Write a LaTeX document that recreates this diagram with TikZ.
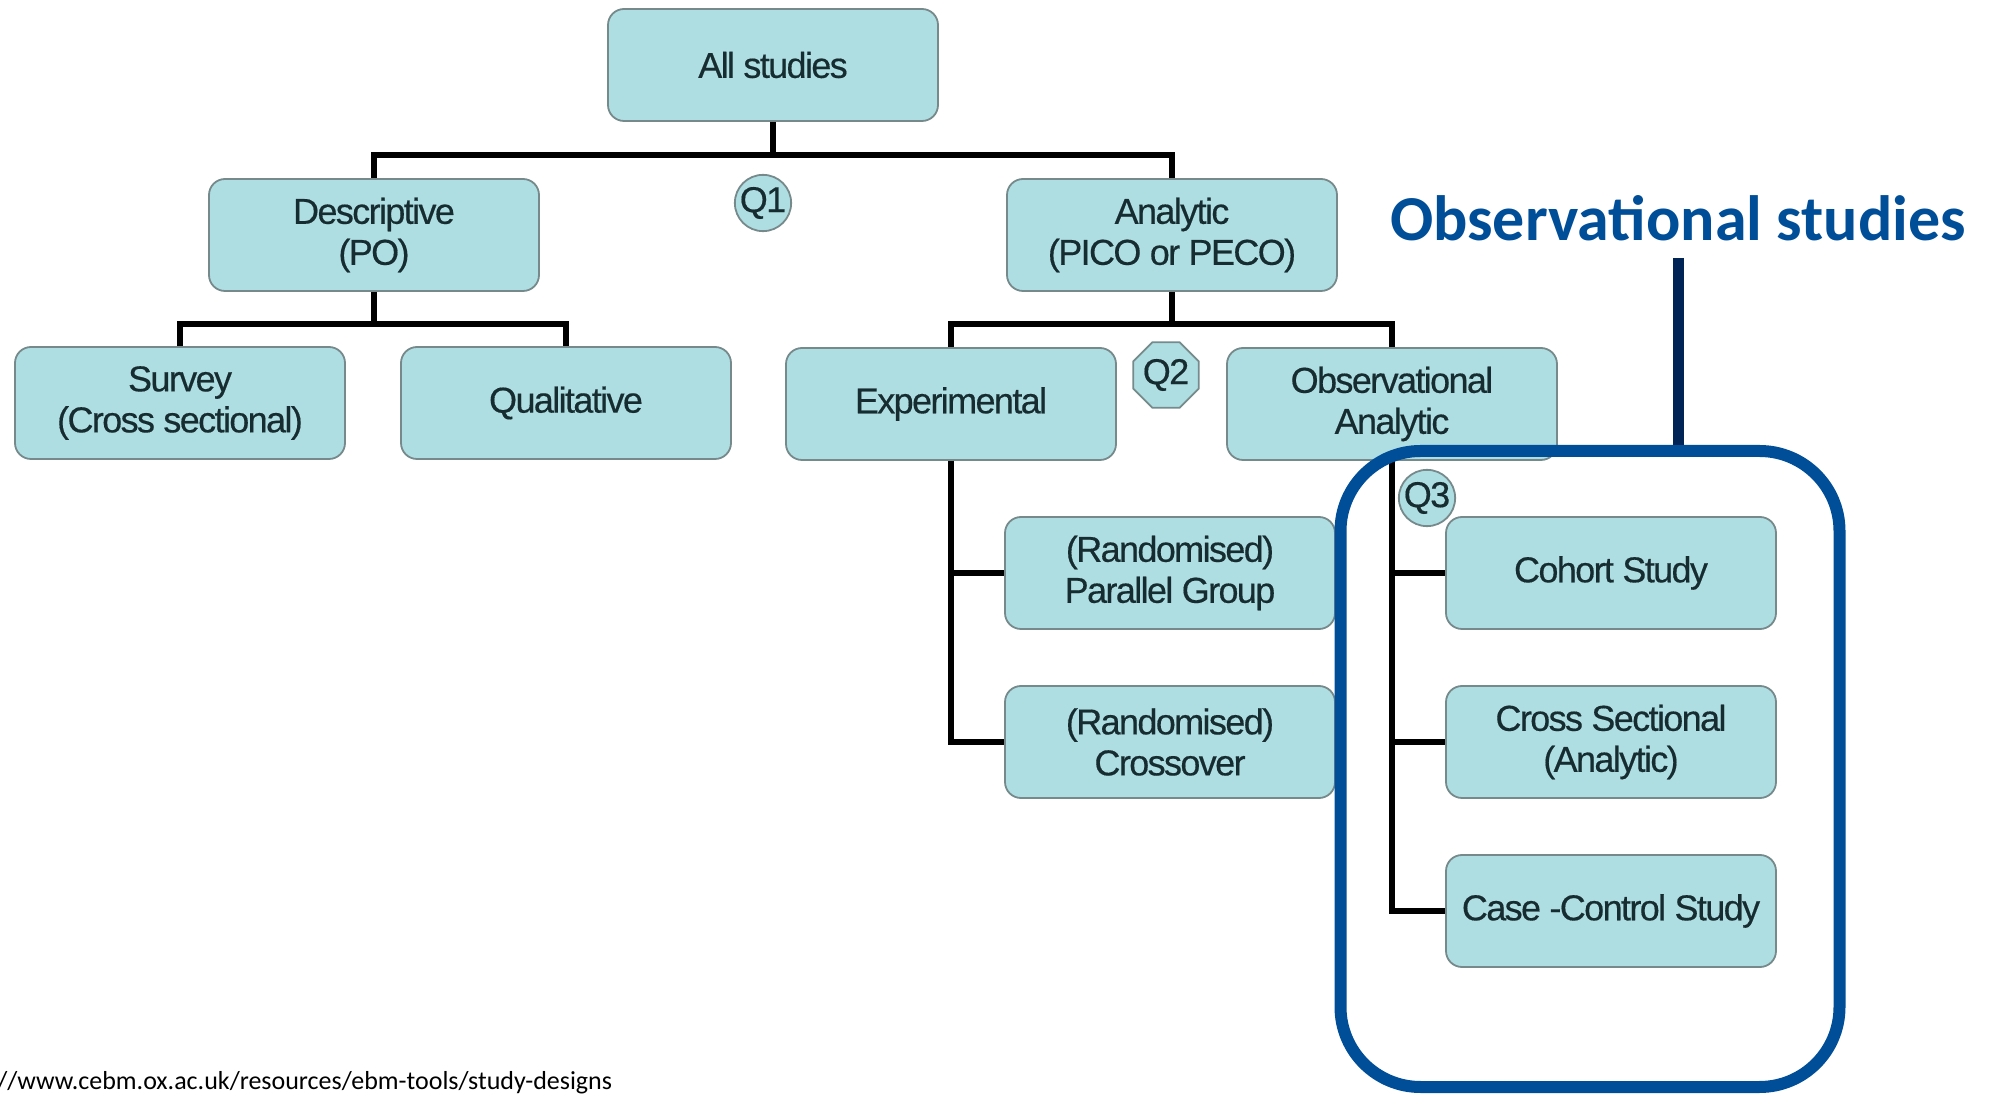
\documentclass[tikz,border=0pt]{standalone}
\usepackage{fontspec}
\usetikzlibrary{shapes.geometric}
\newfontfamily\sdfont{Liberation Sans}[LetterSpace=-4.5, FakeBold=0.4]
\newfontfamily\calfont{Carlito}
\definecolor{sdfill}{RGB}{174,222,226}
\definecolor{sdedge}{RGB}{118,138,140}
\definecolor{sdtext}{RGB}{22,44,48}
\definecolor{obsblue}{RGB}{0,78,152}
\definecolor{obsnavy}{RGB}{0,36,86}

\begin{document}
\begin{tikzpicture}[x=0.5pt, y=-0.5pt,
      sbox/.style={rounded corners=8pt, draw=sdedge, fill=sdfill, line width=0.9pt, minimum width=165pt, minimum height=56pt, align=center, inner sep=2pt, text=sdtext, font=\sdfont\fontsize{18pt}{20.5pt}\selectfont},
      qmark/.style={circle, draw=sdedge, fill=sdfill, line width=0.9pt, minimum size=28pt, inner sep=0pt, text=sdtext, font=\sdfont\fontsize{18pt}{20.5pt}\selectfont},
      link/.style={line width=3pt, black},
      obsframe/.style={draw=obsblue, line width=6pt, rounded corners=40pt, minimum width=249.5pt, minimum height=318pt, inner sep=0pt}
    ]
      \useasboundingbox (0,0) rectangle (1993,1095);

      % Top levels
      \node[sbox] (all) at (773,65) {All studies};
      \node[sbox] (desc) at (374,235) {Descriptive\\(PO)};
      \node[sbox] (anal) at (1172,235) {Analytic\\(PICO or PECO)};
      \node[sbox] (surv) at (180,403) {Survey\\(Cross sectional)};
      \node[sbox] (qual) at (566,403) {Qualitative};
      \node[sbox] (expt) at (951,404) {Experimental};
      \node[sbox] (obsa) at (1392,404) {Observational\\Analytic};

      % Experimental designs
      \node[sbox] (par) at (1170,573) {(Randomised)\\Parallel Group};
      \node[sbox] (xover) at (1170,742) {(Randomised)\\Crossover};

      % Observational designs
      \node[sbox] (coh) at (1611,573) {Cohort Study};
      \node[sbox] (xsec) at (1611,742) {Cross Sectional\\(Analytic)};
      \node[sbox] (cc) at (1611,911) {Case -Control Study};

      % Connectors
      \coordinate (j0) at (773,155);
      \coordinate (j1) at (374,324);
      \coordinate (j2) at (1172,324);
      \draw[link] (all) -- (j0) -| (desc);
      \draw[link] (j0) -| (anal);
      \draw[link] (desc) -- (j1) -| (surv);
      \draw[link] (j1) -| (qual);
      \draw[link] (anal) -- (j2) -| (expt);
      \draw[link] (j2) -| (obsa);
      \draw[link] (expt) |- (par);
      \draw[link] (expt) |- (xover);
      \draw[link] (obsa) |- (coh);
      \draw[link] (obsa) |- (xsec);
      \draw[link] (obsa) |- (cc);

      % Questions
      \node[qmark] (q1) at (763,203) {Q1};
      \node[qmark, regular polygon, regular polygon sides=8, minimum size=30pt] (q2) at (1166,375) {Q2};
      \node[qmark] (q3) at (1427,498) {Q3};

      % Highlight
      \node[obsframe] (obsbox) at (1590,769) {};
      \node[font=\calfont\bfseries\fontsize{32pt}{36pt}\selectfont, text=obsblue, anchor=base, inner sep=8pt] (obslbl) at (1678,241) {Observational studies};
      \draw[line width=5.5pt, obsnavy] (obslbl) -- (obslbl |- obsbox.north);

      % Source
      \node[font=\calfont\fontsize{13pt}{15pt}\selectfont, anchor=base west, inner sep=0pt] (src) at (-3,1089) {//www.cebm.ox.ac.uk/resources/ebm-tools/study-designs};
    \end{tikzpicture}
\end{document}
